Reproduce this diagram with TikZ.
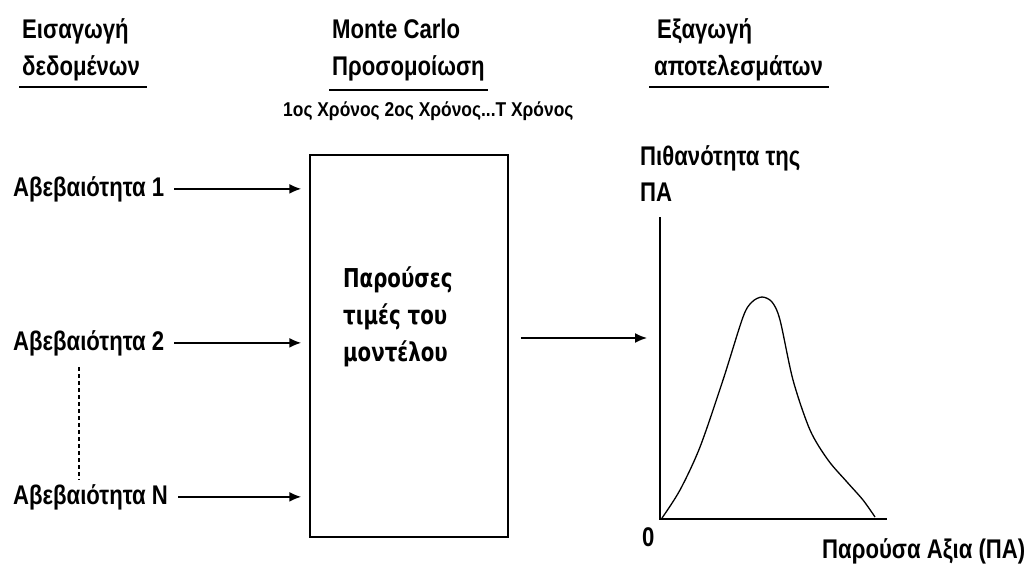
\documentclass[tikz,border=0pt]{standalone}
\usepackage{fontspec}
\setmainfont{Liberation Sans}[FakeStretch=0.82]
\newfontfamily\boxfont{DejaVu Sans}[FakeStretch=0.76]
\usetikzlibrary{arrows.meta,positioning,calc}

\begin{document}
\begin{tikzpicture}[
  x=1pt,y=-1pt,
  txt/.style={inner sep=0pt,anchor=base west,font=\fontsize{27}{30}\selectfont\bfseries},
  small/.style={inner sep=0pt,anchor=base west,font=\fontsize{20}{22}\selectfont\bfseries\addfontfeature{FakeStretch=0.87}},
  boxtxt/.style={inner sep=0pt,anchor=north west,align=left,
                 font=\fontsize{26}{37}\selectfont\boxfont\bfseries},
  model/.style={rectangle,draw=black,line width=1.5pt,minimum width=198pt,minimum height=382pt},
  uline/.style={draw=black,line width=2pt},
  arrow/.style={-{Latex[length=12pt,width=10pt]},draw=black,line width=1.6pt},
  axis/.style={draw=black,line width=1.6pt},
  curve/.style={draw=black,line width=1.3pt},
  dotline/.style={draw=black,line width=1.2pt,dash pattern=on 4pt off 3pt}
]
\useasboundingbox (0,0) rectangle (1027,571);
% titles
\node[txt] (intitle) at (22,38) {Εισαγωγή};
\node[txt] (indata) at (22,75) {δεδομένων};
\node[txt] (mctitle) at (332,38) {Monte Carlo};
\node[txt] (mcsim) at (332,75) {Προσομοίωση};
\node[txt] (outtitle) at (657,38) {Εξαγωγή};
\node[txt] (outres) at (654,75) {αποτελεσμάτων};
\draw[uline] ($(indata.base west)+(-3,12)$) -- ($(indata.base east)+(7,12)$);
\draw[uline] ($(mcsim.base west)+(-3,15)$) -- ($(mcsim.base east)+(3,15)$);
\draw[uline] ($(outres.base west)+(-5,12)$) -- ($(outres.base east)+(6,12)$);
% model
\node[small] (years) at (283,116) {1ος Χρόνος 2ος Χρόνος...Τ Χρόνος};
\node[model] (model) at (409,346) {};
\node[boxtxt] (modeltxt) at (343,266) {Παρούσες\\τιμές του\\μοντέλου};
% inputs
\node[txt] (unc1) at (13,196) {Αβεβαιότητα 1};
\node[txt] (unc2) at (13,350) {Αβεβαιότητα 2};
\node[txt] (uncN) at (13,504) {Αβεβαιότητα N};
\coordinate (dottop) at (79,367);
\coordinate (dotbot) at (79,480);
\draw[dotline] (dottop) -- (dotbot);
\foreach \u in {unc1,unc2,uncN}
  \draw[arrow,shorten >=8pt] ([xshift=10pt]\u.east) -- (\u.east -| model.west);
% output
\coordinate (origin) at (660,519);
\coordinate (ytop) at (660,217);
\coordinate (xend) at (887,519);
\draw[arrow] ([xshift=12pt,yshift=8pt]model.east) -- ([xshift=-13pt,yshift=8pt]model.east -| origin);
\draw[axis] (ytop) -- (origin) -- (xend);
\draw[curve] plot[smooth,tension=0.5] coordinates {(662,518) (680,490) (700,447) (723,380) (743,317) (752,302) (762,297) (772,302) (780,320) (793,380) (810,430) (828,460) (847,482) (863,500) (875,517)};
\node[txt] (probtitle) at (640,165) {Πιθανότητα της};
\node[txt] (probpa) at (640,201) {ΠΑ};
\node[txt] (zero) at (642,546) {0};
\node[txt] (pvalue) at (822,558) {Παρούσα Αξια (ΠΑ)};
\end{tikzpicture}
\end{document}
